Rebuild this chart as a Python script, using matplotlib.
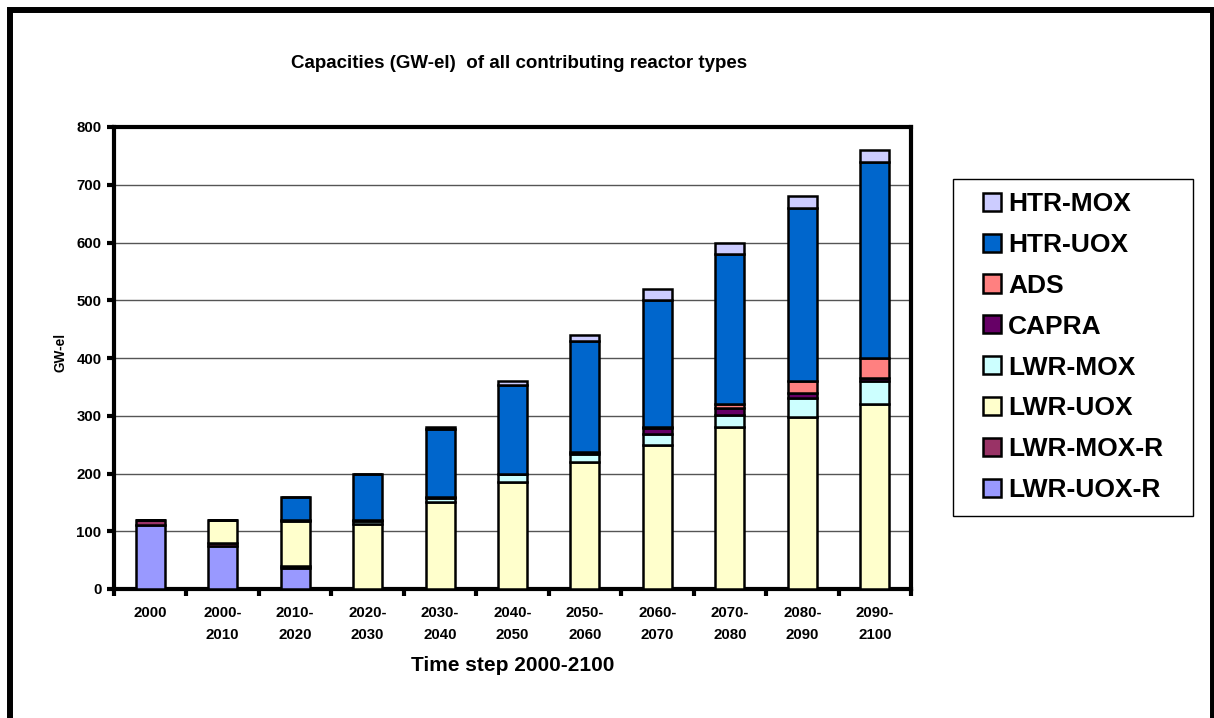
import numpy as np
import matplotlib
matplotlib.use('Agg')
import matplotlib.pyplot as plt
from matplotlib.patches import Rectangle

plt.rcParams['font.family'] = ['Liberation Sans', 'DejaVu Sans']
plt.rcParams['font.weight'] = 'bold'

# categories and stacked series (GW-el), bottom to top
cats = ['2000', '2000-\n2010', '2010-\n2020', '2020-\n2030', '2030-\n2040', '2040-\n2050',
        '2050-\n2060', '2060-\n2070', '2070-\n2080', '2080-\n2090', '2090-\n2100']
lwr_uox_r = [110, 75, 37, 0, 0, 0, 0, 0, 0, 0, 0]
lwr_mox_r = [10, 5, 3, 0, 0, 0, 0, 0, 0, 0, 0]
lwr_uox = [0, 40, 78, 113, 150, 185, 220, 250, 280, 297, 320]
lwr_mox = [0, 0, 2, 4, 8, 15, 13, 18, 22, 33, 40]
capra = [0, 0, 0, 3, 1, 0, 5, 10, 12, 10, 5]
ads = [0, 0, 0, 0, 0, 0, 0, 2, 6, 20, 35]
htr_uox = [0, 0, 40, 80, 118, 153, 192, 220, 260, 300, 340]
htr_mox = [0, 0, 0, 0, 3, 7, 10, 20, 20, 20, 20]

series = [('LWR-UOX-R', lwr_uox_r, '#9999FF'),
          ('LWR-MOX-R', lwr_mox_r, '#993366'),
          ('LWR-UOX', lwr_uox, '#FFFFCC'),
          ('LWR-MOX', lwr_mox, '#CCFFFF'),
          ('CAPRA', capra, '#660066'),
          ('ADS', ads, '#FF8080'),
          ('HTR-UOX', htr_uox, '#0066CC'),
          ('HTR-MOX', htr_mox, '#CCCCFF')]

fig = plt.figure(figsize=(12.14, 7.18), dpi=100)
ax = fig.add_axes([114/1214, 1-589/718, (911-114)/1214, (589-127)/718])

x = np.arange(len(cats))
bottom = np.zeros(len(cats))
handles = []
for name, vals, col in series:
    v = np.array(vals, dtype=float)
    b = ax.bar(x, v, 0.4, bottom=bottom, color=col, edgecolor='black', linewidth=1.8,
               label=name, zorder=3)
    handles.append(b)
    bottom += v

ax.set_xlim(-0.5, len(cats)-0.5)
ax.set_ylim(0, 800)
ax.set_yticks(range(0, 801, 100))
ax.yaxis.grid(True, color='#555555', linewidth=1, zorder=0)
ax.set_xticks(x)
ax.set_xticklabels(cats, fontsize=10.8, fontweight='bold', linespacing=1.75)
ax.set_xticks(np.arange(-0.5, len(cats), 1), minor=True)
ax.tick_params(axis='x', which='major', length=0, pad=12)
ax.tick_params(axis='x', which='minor', length=5, width=3, direction='out')
ax.tick_params(axis='y', length=5, width=3, direction='out', labelsize=10.8, pad=4)
for lab in ax.get_yticklabels():
    lab.set_fontweight('bold')
for sp in ax.spines.values():
    sp.set_linewidth(3)

ax.set_ylabel('GW-el', fontsize=9.8, fontweight='bold')
ax.yaxis.set_label_coords(-0.058, 0.511)
ax.set_xlabel('Time step 2000-2100', fontsize=15, fontweight='bold', labelpad=10)
fig.text(519/1214, 1-63/718, 'Capacities (GW-el)  of all contributing reactor types',
         ha='center', va='center', fontsize=13.5, fontweight='bold')

# legend without its own frame, box drawn separately
leg = fig.legend(handles[::-1], [s[0] for s in series[::-1]], loc='upper left',
                 bbox_to_anchor=(983/1214, 1-192/718), fontsize=19, frameon=False,
                 handlelength=0.68, handleheight=0.68, handletextpad=0.28,
                 labelspacing=0.64, borderpad=0, borderaxespad=0)
for t in leg.get_texts():
    t.set_fontweight('bold')
fig.patches.append(Rectangle((953/1214, 1-516/718), 240/1214, 337/718,
                             transform=fig.transFigure, fill=False, edgecolor='black',
                             linewidth=1))

# outer chart border
fig.patches.append(Rectangle((9.5/1214, -0.05), (1212.5-9.5)/1214, 1.05-9.5/718,
                             transform=fig.transFigure, fill=False, edgecolor='black',
                             linewidth=4.3))

fig.savefig('out.png', dpi=100)
